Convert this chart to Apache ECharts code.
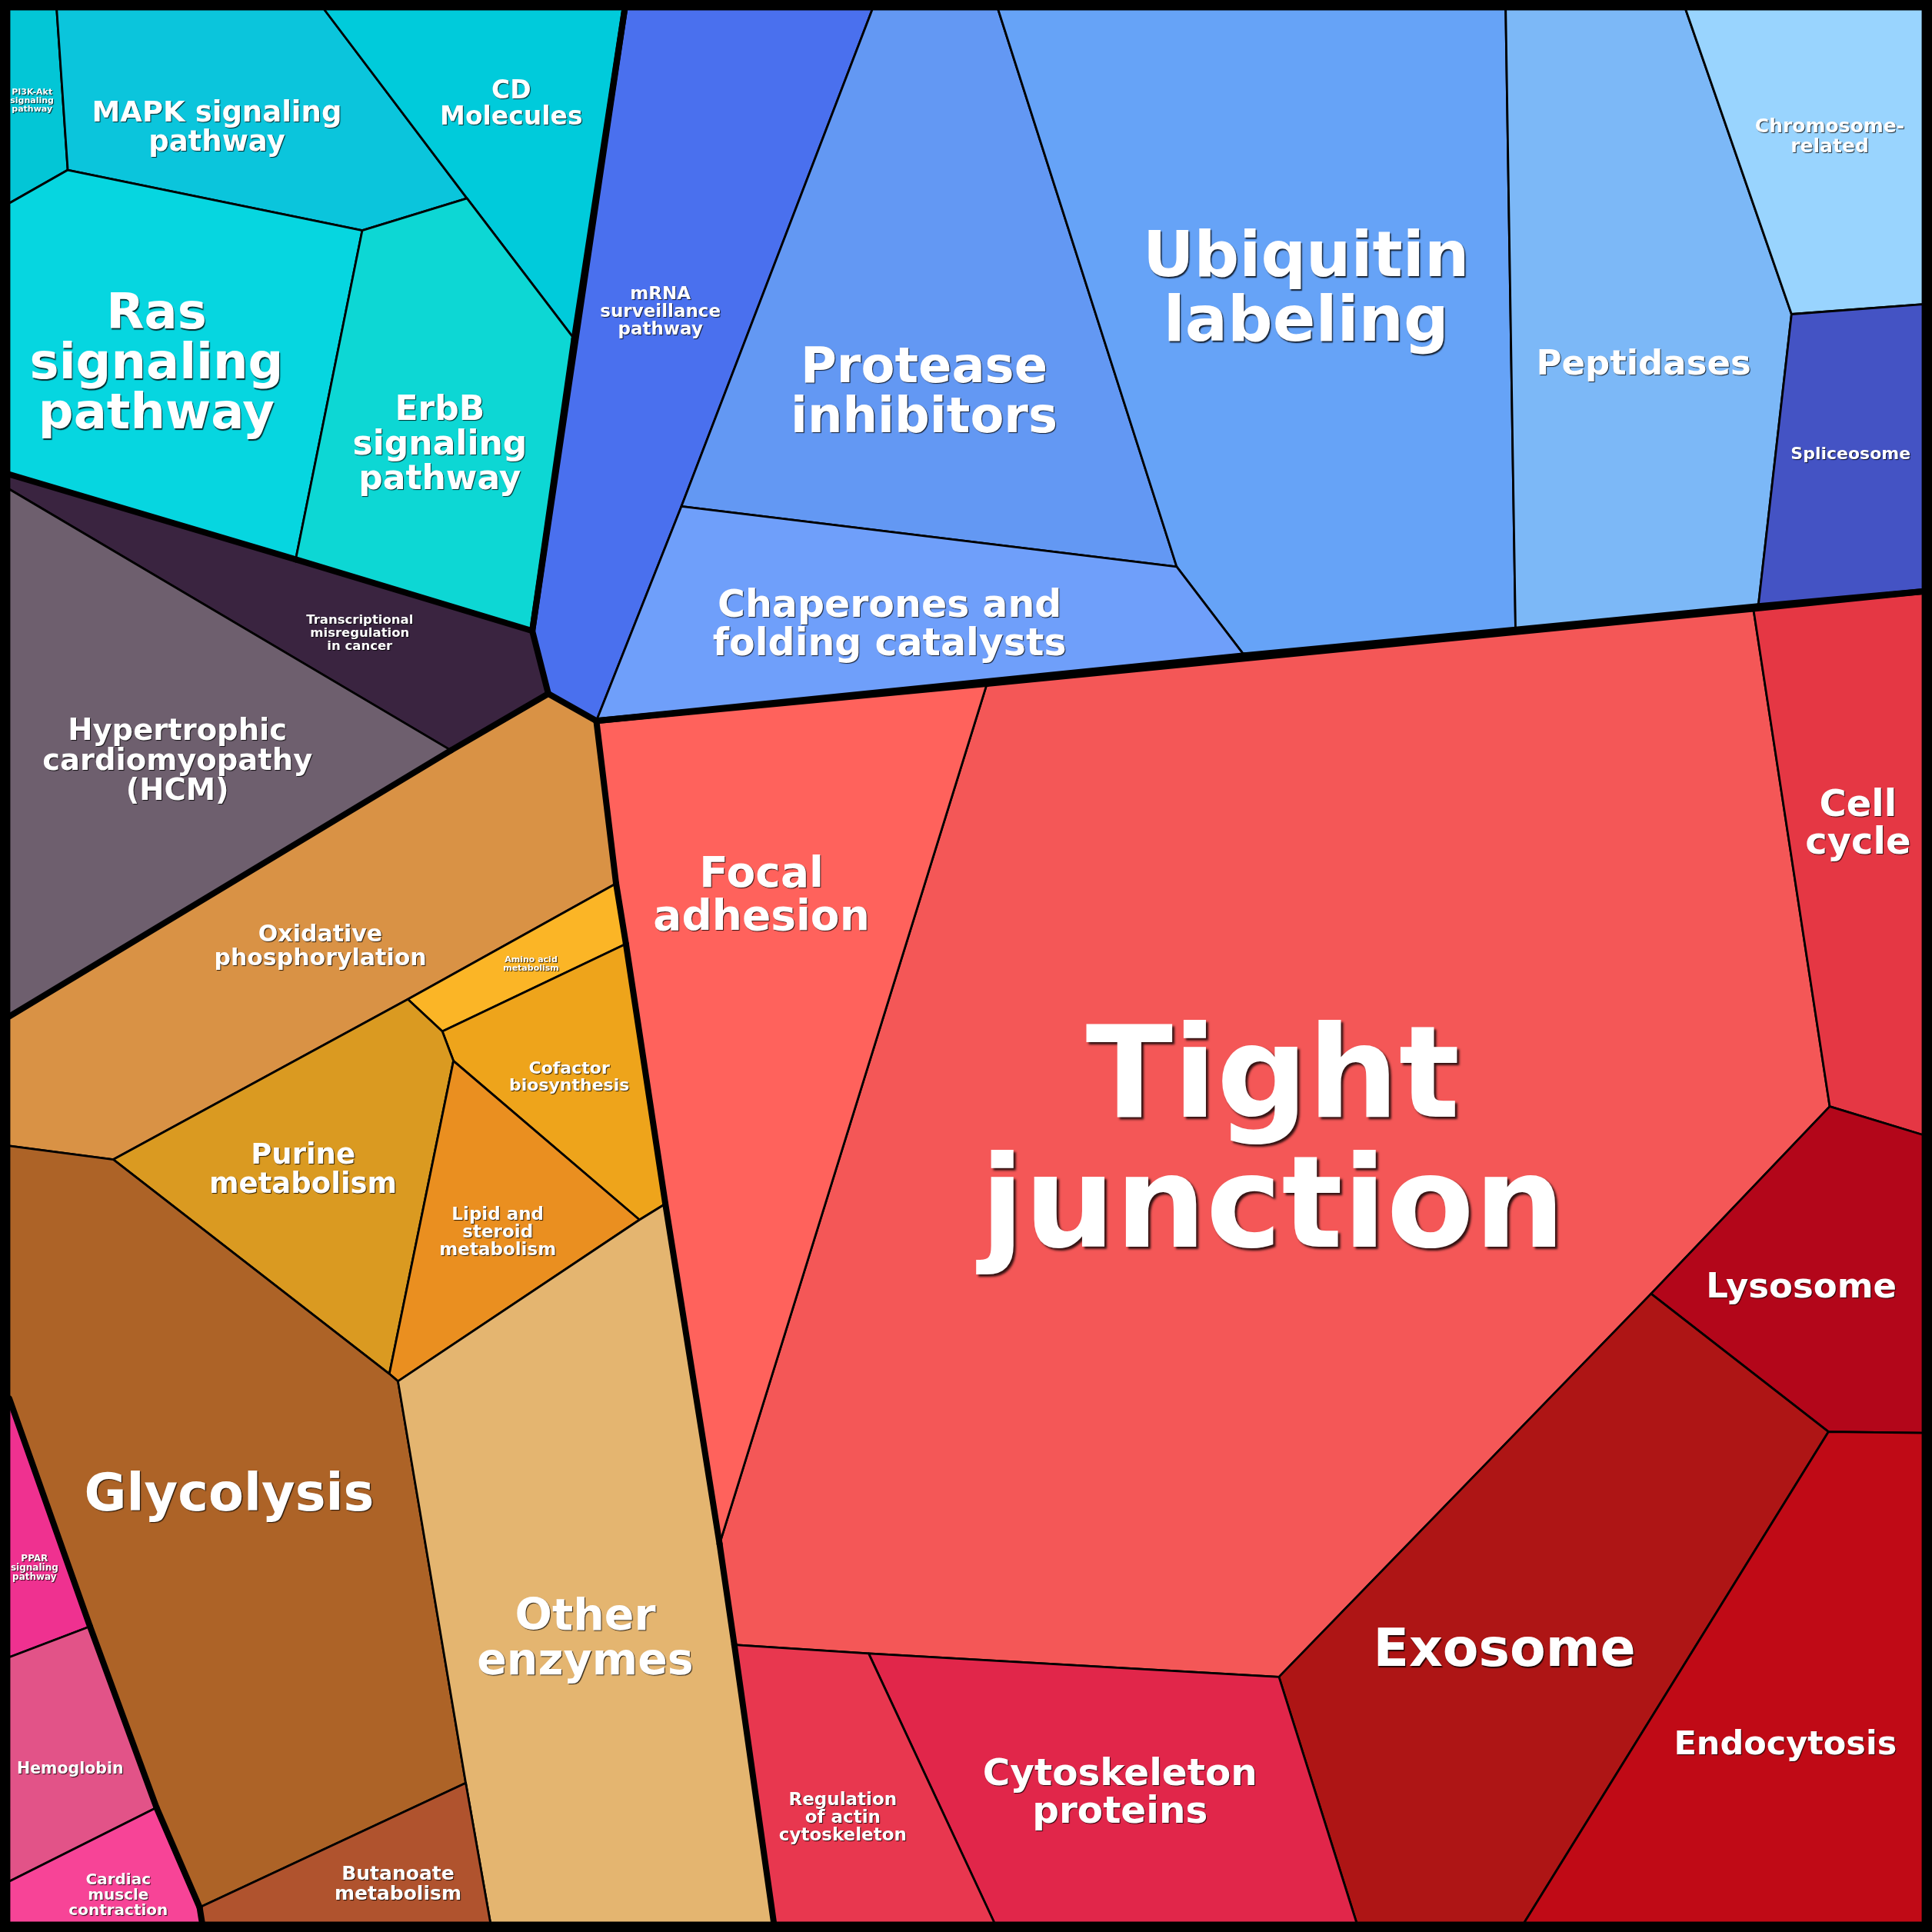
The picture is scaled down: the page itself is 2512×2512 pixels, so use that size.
<!DOCTYPE html>
<html>
<head>
<meta charset="utf-8">
<script src="https://cdn.jsdelivr.net/npm/echarts@6/dist/echarts.min.js"></script>
<style>html,body{margin:0;padding:0;background:#000}#c{width:2512px;height:2512px}</style>
</head>
<body>
<div id="c"></div>
<script>
// ---------- DATA (layout units 0..1568) ----------
const names = [
  'PI3K-Akt\nsignaling\npathway','MAPK signaling\npathway','CD\nMolecules','Ras\nsignaling\npathway','ErbB\nsignaling\npathway',
  'Transcriptional\nmisregulation\nin cancer','Hypertrophic\ncardiomyopathy\n(HCM)',
  'mRNA\nsurveillance\npathway','Protease\ninhibitors','Ubiquitin\nlabeling','Chaperones and\nfolding catalysts','Peptidases','Chromosome-\nrelated','Spliceosome',
  'Tight\njunction','Focal\nadhesion','Cell\ncycle','Lysosome','Exosome','Endocytosis','Cytoskeleton\nproteins','Regulation\nof actin\ncytoskeleton',
  'Oxidative\nphosphorylation','Amino acid\nmetabolism','Cofactor\nbiosynthesis','Purine\nmetabolism','Lipid and\nsteroid\nmetabolism','Glycolysis','Other\nenzymes','Butanoate\nmetabolism',
  'PPAR\nsignaling\npathway','Hemoglobin','Cardiac\nmuscle\ncontraction'
];
const groups = [
  'cyan','cyan','cyan','cyan','cyan',
  'dark','dark',
  'blue','blue','blue','blue','blue','blue','blue',
  'red','red','red','red','red','red','red','red',
  'orange','orange','orange','orange','orange','orange','orange','orange',
  'pink','pink','pink'
];
const cells = [
  [[7.5,7.5],[46,7.5],[55,138],[7.5,165]],
  [[46,7.5],[263,7.5],[379,161],[294,187],[55,138]],
  [[263,7.5],[507,7.5],[466,275],[379,161]],
  [[7.5,165],[55,138],[294,187],[240,454],[7.5,385]],
  [[294,187],[379,161],[466,275],[432,512],[240,454]],
  [[7.5,385],[240,454],[432,512],[445,563],[366,609],[7.5,397]],
  [[7.5,397],[366,609],[7.5,825]],
  [[507,7.5],[708,7.5],[553,411],[484,585],[445,563],[432,512]],
  [[708,7.5],[810,7.5],[955,460],[553,411]],
  [[810,7.5],[1222,7.5],[1230,511],[1010,532],[955,460]],
  [[553,411],[955,460],[1010,532],[484,585]],
  [[1222,7.5],[1368,7.5],[1454,255],[1427,492],[1230,511]],
  [[1368,7.5],[1560.5,7.5],[1560.5,247],[1454,255]],
  [[1454,255],[1560.5,247],[1560.5,480],[1427,492]],
  [[801,555],[1423,494],[1485,898],[1340,1050],[1038,1361],[705,1342],[596,1335],[584,1253]],
  [[484,585],[801,555],[584,1253],[540,977],[508,766],[500,717]],
  [[1423,494],[1560.5,480],[1560.5,921],[1485,898]],
  [[1485,898],[1560.5,921],[1560.5,1163],[1484,1162],[1340,1050]],
  [[1340,1050],[1484,1162],[1237,1560.5],[1101,1560.5],[1038,1361]],
  [[1484,1162],[1560.5,1163],[1560.5,1560.5],[1237,1560.5]],
  [[705,1342],[1038,1361],[1101,1560.5],[807,1560.5]],
  [[596,1335],[705,1342],[807,1560.5],[628,1560.5]],
  [[445,563],[484,585],[500,717],[331,811],[92,941],[7.5,930],[7.5,825],[366,609]],
  [[500,717],[508,766],[359,837],[331,811]],
  [[359,837],[508,766],[540,977],[519,990],[368,861]],
  [[92,941],[331,811],[359,837],[368,861],[316,1115]],
  [[368,861],[519,990],[323,1121],[316,1115]],
  [[7.5,930],[92,941],[316,1115],[323,1121],[378,1447],[162,1548],[127,1467],[73,1320],[7.5,1135]],
  [[519,990],[540,977],[584,1253],[596,1335],[628,1560.5],[398,1560.5],[378,1447],[323,1121]],
  [[162,1548],[378,1447],[398,1560.5],[164,1560.5]],
  [[7.5,1135],[73,1320],[7.5,1345]],
  [[7.5,1345],[73,1320],[127,1467],[7.5,1527]],
  [[7.5,1527],[127,1467],[162,1548],[164,1560.5],[7.5,1560.5]]
];
const sites = [
  [26,81],[176,102],[415,83],[127,293],[357,359],
  [292,513],[144,616],
  [536,252],[750,316],[1060,232],[722,505],[1334,294],[1485,110],[1502,368],
  [1033,922],[618,725],[1508,667],[1462,1043],[1221,1337],[1449,1414],[909,1453],[684,1474],
  [260,767],[431,782],[462,873],[246,948],[404,999],[186,1211],[475,1328],[323,1528],
  [28,1272],[57,1435],[96,1537]
];

// ---------- STYLE ----------
const palette = [
  '#03c6d6','#0bc5dc','#00cbdb','#06d6e0','#0dd7d4',
  '#3a2440','#6e5f6e',
  '#4a70ee','#6398f3','#66a3f7','#6f9ffa','#7cb8f7','#99d4fe','#4453c4',
  '#f45757','#ff625c','#e53744','#b3061a','#ae1515','#c00a16','#e1264a','#e8374f',
  '#d99245','#fbb526','#eea41b','#da9a21','#ea8f20','#ad6327','#e4b570','#b0532e',
  '#ef3190','#e25388','#f74497'
];
const labelPx = [
  11,37,33,64,44,
  16.5,38.5,
  23,64,82,49,45,25,22,
  166,55,48,45,68,43,48.5,23,
  30,11,22,37,23,67,57,25,
  12,20.5,20
];

// ---------- group outlines: edges not shared within a group ----------
const key = p => p[0] + ',' + p[1];
const edgeKey = (a, b) => { const ka = key(a), kb = key(b); return ka < kb ? ka + '|' + kb : kb + '|' + ka; };
const edgeOwners = {};
cells.forEach((poly, i) => {
  poly.forEach((p, j) => {
    const q = poly[(j + 1) % poly.length];
    const k = edgeKey(p, q);
    (edgeOwners[k] = edgeOwners[k] || { a: p, b: q, gs: [] }).gs.push(groups[i]);
  });
});
const onFrame = (a, b) => (a[0] <= 8 && b[0] <= 8) || (a[0] >= 1560 && b[0] >= 1560) ||
                          (a[1] <= 8 && b[1] <= 8) || (a[1] >= 1560 && b[1] >= 1560);
const thickEdges = [];
Object.values(edgeOwners).forEach(e => {
  const internal = e.gs.length === 2 && e.gs[0] === e.gs[1];
  if (!internal && !onFrame(e.a, e.b)) thickEdges.push([e.a[0], e.a[1], e.b[0], e.b[1]]);
});

const chart = echarts.init(document.getElementById('c'), null, { renderer: 'canvas', width: 2512, height: 2512 });
chart.setOption({
  backgroundColor: '#000',
  animation: false,
  grid: { left: 0, right: 0, top: 0, bottom: 0, containLabel: false },
  xAxis: { type: 'value', min: 0, max: 1568, show: false },
  yAxis: { type: 'value', min: 0, max: 1568, inverse: true, show: false },
  series: [
    {
      type: 'custom', coordinateSystem: 'cartesian2d', z: 1, silent: true, clip: false,
      data: cells.map((c, i) => ({ name: names[i], value: [sites[i][0], sites[i][1], i] })),
      renderItem: (params, api) => {
        const i = api.value(2);
        return {
          type: 'polygon',
          shape: { points: cells[i].map(p => api.coord(p)) },
          style: { fill: palette[i], stroke: '#000', lineWidth: 2.8, lineJoin: 'round' }
        };
      }
    },
    {
      type: 'custom', coordinateSystem: 'cartesian2d', z: 2, silent: true, clip: false,
      encode: { x: [0, 2], y: [1, 3] },
      data: thickEdges,
      renderItem: (params, api) => {
        const a = api.coord([api.value(0), api.value(1)]);
        const b = api.coord([api.value(2), api.value(3)]);
        return {
          type: 'line',
          shape: { x1: a[0], y1: a[1], x2: b[0], y2: b[1] },
          style: { stroke: '#000', lineWidth: 8, lineCap: 'round' }
        };
      }
    },
    {
      type: 'custom', coordinateSystem: 'cartesian2d', z: 3, silent: true, clip: false,
      data: sites.map((s, i) => ({ name: names[i], value: [s[0], s[1], i] })),
      renderItem: (params, api) => {
        const i = api.value(2);
        const c = api.coord([api.value(0), api.value(1)]);
        const fs = labelPx[i];
        const sh = Math.max(1, fs * 0.018);
        return {
          type: 'text',
          x: c[0], y: c[1] + fs * 0.1,
          style: {
            text: names[i],
            fill: '#ffffff',
            fontSize: fs,
            fontWeight: 'bold',
            fontFamily: 'DejaVu Sans',
            align: 'center',
            verticalAlign: 'middle',
            lineHeight: Math.round(fs * 1.02),
            textShadowColor: 'rgba(0,0,0,0.8)',
            textShadowBlur: sh,
            textShadowOffsetX: sh,
            textShadowOffsetY: sh
          }
        };
      }
    }
  ]
});
</script>
</body>
</html>
